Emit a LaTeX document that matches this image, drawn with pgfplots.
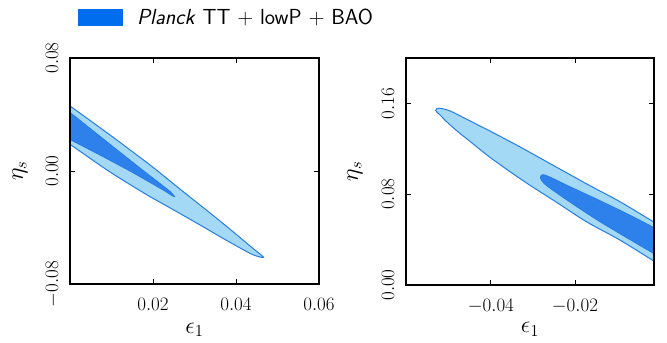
\RequirePackage{fix-cm}
\documentclass[border=0pt]{standalone}
\usepackage{fontspec}
\usepackage{pgfplots}
\pgfplotsset{compat=1.18}
\definecolor{lightc}{RGB}{164,217,245}
\definecolor{darkc}{RGB}{46,128,234}
\definecolor{edgec}{RGB}{38,124,230}
\definecolor{legc}{RGB}{0,108,238}
\pgfplotsset{
  myax/.style={
    scale only axis, axis on top, clip=true,
    scaled x ticks=false, scaled y ticks=false,
    tick align=inside, tick pos=both, major tick length=5bp,
    minor tick num=0,
    axis line style={line width=1.2bp},
    every tick/.style={black, line width=0.9bp},
    tick label style={font=\fontsize{19bp}{22bp}\selectfont},
    label style={font=\fontsize{24bp}{28bp}\selectfont},
    xticklabel style={anchor=base, yshift=-26bp},
    yticklabel style={xshift=-12bp, rotate=90, anchor=base},
  },
  outer/.style={fill=lightc, draw=edgec, line width=1bp, smooth},
  inner/.style={fill=darkc, draw=edgec, line width=0.8bp, smooth},
}
\begin{document}
\begin{tikzpicture}[x=1bp,y=1bp]
\useasboundingbox (0,0) rectangle (667,342);
\begin{axis}[myax,
  at={(70bp,58bp)}, anchor=south west, width=249bp, height=226bp,
  xmin=0, xmax=0.06, ymin=-0.08, ymax=0.08,
  xtick={0.02,0.04,0.06}, xticklabels={$0.02$,$0.04$,$0.06$},
  ytick={-0.08,0,0.08}, yticklabels={$-0.08$,$0.00$,$0.08$},
  xlabel={$\epsilon_1$}, ylabel={$\eta_s$},
  xlabel style={at={(axis description cs:0.5,-0.217)}, anchor=base},
  ylabel style={at={(axis description cs:-0.2008,0.5)}, anchor=center},
  legend style={at={(axis description cs:0.032,1.181)}, anchor=west, draw=none, fill=none,
    font=\sffamily\fontsize{21.8bp}{25bp}\selectfont, inner sep=0pt,
    /tikz/every odd column/.append style={column sep=12bp}},
  legend image code/.code={\fill[legc] (0bp,-8bp) rectangle (44bp,8bp);},
]
\addplot[outer] coordinates {
(-0.00241,0.0512) (0.00024,0.0455) (0.00964,0.0255) (0.01928,0.00425) (0.02723,-0.0145)
(0.03535,-0.0335) (0.04097,-0.0471) (0.04338,-0.0531) (0.04531,-0.0577) (0.04663,-0.0611)
(0.04531,-0.0605) (0.04338,-0.0583) (0.03735,-0.0485) (0.03133,-0.0382) (0.02289,-0.0241)
(0.01928,-0.0182) (0.00964,-0.0007) (0.00024,0.0184) (-0.00241,0.0234)};
\addplot[inner] coordinates {
(-0.00241,0.0470) (0.00024,0.0409) (0.00964,0.0189) (0.01687,0.0021) (0.02169,-0.0089)
(0.02410,-0.0145) (0.02518,-0.0181) (0.02434,-0.0170) (0.02289,-0.0142) (0.01928,-0.0081)
(0.01487,-0.0007) (0.00723,0.0113) (0.00024,0.0219) (-0.00241,0.0260)};
\addlegendimage{}
\addlegendentry{\textit{Planck} TT + lowP + BAO}
\end{axis}
\begin{axis}[myax,
  at={(406bp,57bp)}, anchor=south west, width=248bp, height=227bp,
  xmin=-0.0602, xmax=-0.0012, ymin=0, ymax=0.2,
  xtick={-0.04,-0.02}, xticklabels={$-0.04$,$-0.02$},
  ytick={0,0.08,0.16}, yticklabels={$0.00$,$0.08$,$0.16$},
  xlabel={$\epsilon_1$}, ylabel={$\eta_s$},
  xlabel style={at={(axis description cs:0.5,-0.211)}, anchor=base},
  ylabel style={at={(axis description cs:-0.2056,0.5)}, anchor=center},
]
\addplot[outer] coordinates {
(0.00189,0.0492) (-0.00097,0.0549) (-0.00930,0.0734) (-0.01644,0.0875) (-0.02477,0.1046)
(-0.0331,0.1217) (-0.03983,0.1349) (-0.0450,0.1446) (-0.04976,0.1534) (-0.05238,0.1558)
(-0.05314,0.1538) (-0.05214,0.1499) (-0.05023,0.1428) (-0.04778,0.1348) (-0.0450,0.1266)
(-0.03983,0.1114) (-0.0319,0.0908) (-0.02477,0.0738) (-0.01722,0.0556) (-0.0093,0.0396)
(-0.00097,0.0205) (0.00189,0.0145)};
\addplot[inner] coordinates {
(0.00189,0.0448) (-0.00097,0.0501) (-0.00692,0.0615) (-0.01406,0.0743) (-0.0212,0.0866)
(-0.02715,0.0969) (-0.02822,0.0945) (-0.02715,0.0888) (-0.02358,0.0791) (-0.01882,0.0672)
(-0.01406,0.0558) (-0.00692,0.0400) (-0.00097,0.0272) (0.00189,0.0220)};
\end{axis}
\end{tikzpicture}
\end{document}
